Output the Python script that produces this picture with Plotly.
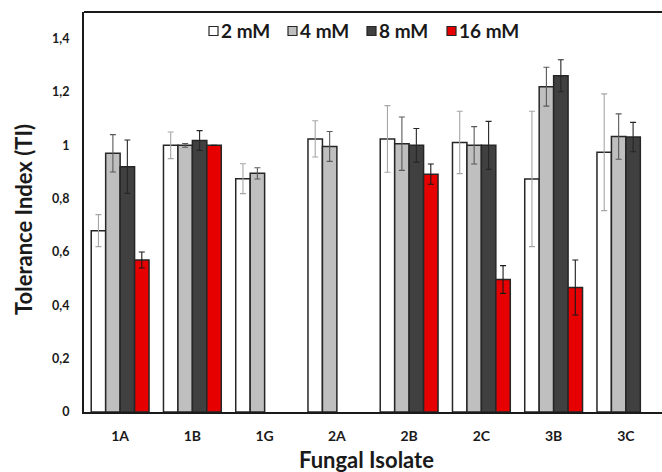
import plotly.graph_objects as go

isolates = ["1A", "1B", "1G", "2A", "2B", "2C", "3B", "3C"]
series_names = ["2 mM", "4 mM", "8 mM", "16 mM"]

ti_2mM = [0.68, 1.00, 0.875, 1.024, 1.024, 1.011, 0.874, 0.974]
ti_4mM = [0.97, 1.00, 0.895, 0.996, 1.006, 1.00, 1.22, 1.033]
ti_8mM = [0.92, 1.018, None, None, 1.00, 1.00, 1.261, 1.031]
ti_16mM = [0.57, 1.00, None, None, 0.892, 0.497, 0.467, None]

err_2mM = [0.06, 0.05, 0.056, 0.068, 0.125, 0.117, 0.254, 0.219]
err_4mM = [0.07, 0.007, 0.021, 0.056, 0.10, 0.07, 0.073, 0.085]
err_8mM = [0.10, 0.037, 0, 0, 0.063, 0.09, 0.06, 0.055]
err_16mM = [0.03, 0, 0, 0, 0.038, 0.052, 0.103, 0]

values = [ti_2mM, ti_4mM, ti_8mM, ti_16mM]
errors = [err_2mM, err_4mM, err_8mM, err_16mM]
fills = ["#FFFFFF", "#BFBFBF", "#404040", "#E60000"]
err_colors = ["#A6A6A6", "#595959", "#262626", "#1A1A1A"]

FONT = "Lato, 'Open Sans', sans-serif"
W, H = 662, 472
ML, MR, MT, MB = 84, 0, 12, 60
PW, PH = W - ML - MR, H - MT - MB


def px(x):
    return (x - ML) / PW


def py(y):
    return (H - MB - y) / PH


fig = go.Figure()
for name, v, e, fc, ec in zip(series_names, values, errors, fills, err_colors):
    fig.add_trace(go.Bar(
        x=isolates, y=v, name=name, showlegend=False,
        marker=dict(color=fc, line=dict(color="#262626", width=1.5)),
        error_y=dict(type="data", array=e, visible=True, color=ec, thickness=1.1, width=3),
    ))

shapes = [dict(type="line", xref="paper", yref="paper", x0=0, x1=1, y0=1, y1=1,
               line=dict(color="#1A1A1A", width=2))]
annotations = []

# custom legend (compact, as in the reference)
legend_left = [209, 288, 367, 447]
leg_y = 31
sq = 9
for name, fc, lx in zip(series_names, fills, legend_left):
    shapes.append(dict(type="rect", xref="paper", yref="paper",
                       x0=px(lx), x1=px(lx + sq), y0=py(leg_y + sq / 2), y1=py(leg_y - sq / 2),
                       fillcolor=fc, line=dict(color="#262626", width=1.2)))
    annotations.append(dict(text=name, xref="paper", yref="paper", x=px(lx + sq + 1), y=py(leg_y),
                            xanchor="left", yanchor="middle", showarrow=False,
                            font=dict(size=19, weight="bold", family=FONT, color="#1A1A1A")))

annotations.append(dict(text="Tolerance Index (TI)", xref="paper", yref="paper",
                        x=px(23), y=py(220), textangle=-90, showarrow=False,
                        xanchor="center", yanchor="middle",
                        font=dict(size=22, weight="bold", family=FONT, color="#1A1A1A")))
annotations.append(dict(text="Fungal Isolate", xref="paper", yref="paper",
                        x=px(366), y=py(459), showarrow=False,
                        xanchor="center", yanchor="middle",
                        font=dict(size=22, weight="bold", family=FONT, color="#1A1A1A")))

fig.update_layout(
    width=W, height=H,
    margin=dict(l=ML, r=MR, t=MT, b=MB, autoexpand=False),
    paper_bgcolor="white", plot_bgcolor="white",
    barmode="group", bargap=0.2, bargroupgap=0,
    separators=",.",
    font=dict(family=FONT, color="#1A1A1A"),
    showlegend=False,
    xaxis=dict(
        range=[-0.5, 7.5], showline=True, linecolor="#1A1A1A", linewidth=2,
        ticks="", tickfont=dict(size=14, weight="bold", family=FONT), ticklabelstandoff=10,
        showgrid=False, automargin=False,
    ),
    yaxis=dict(
        range=[0, 1.5], tickvals=[0, 0.2, 0.4, 0.6, 0.8, 1.0, 1.2, 1.4],
        showline=True, linecolor="#1A1A1A", linewidth=2, ticks="",
        tickfont=dict(size=12.5, weight="bold", family=FONT), ticklabelstandoff=10,
        showgrid=False, zeroline=False, automargin=False,
    ),
    shapes=shapes,
    annotations=annotations,
)

fig.write_html("out.html", config={"displayModeBar": False},
               post_script="document.body.style.margin='0';document.body.style.overflow='hidden';")
